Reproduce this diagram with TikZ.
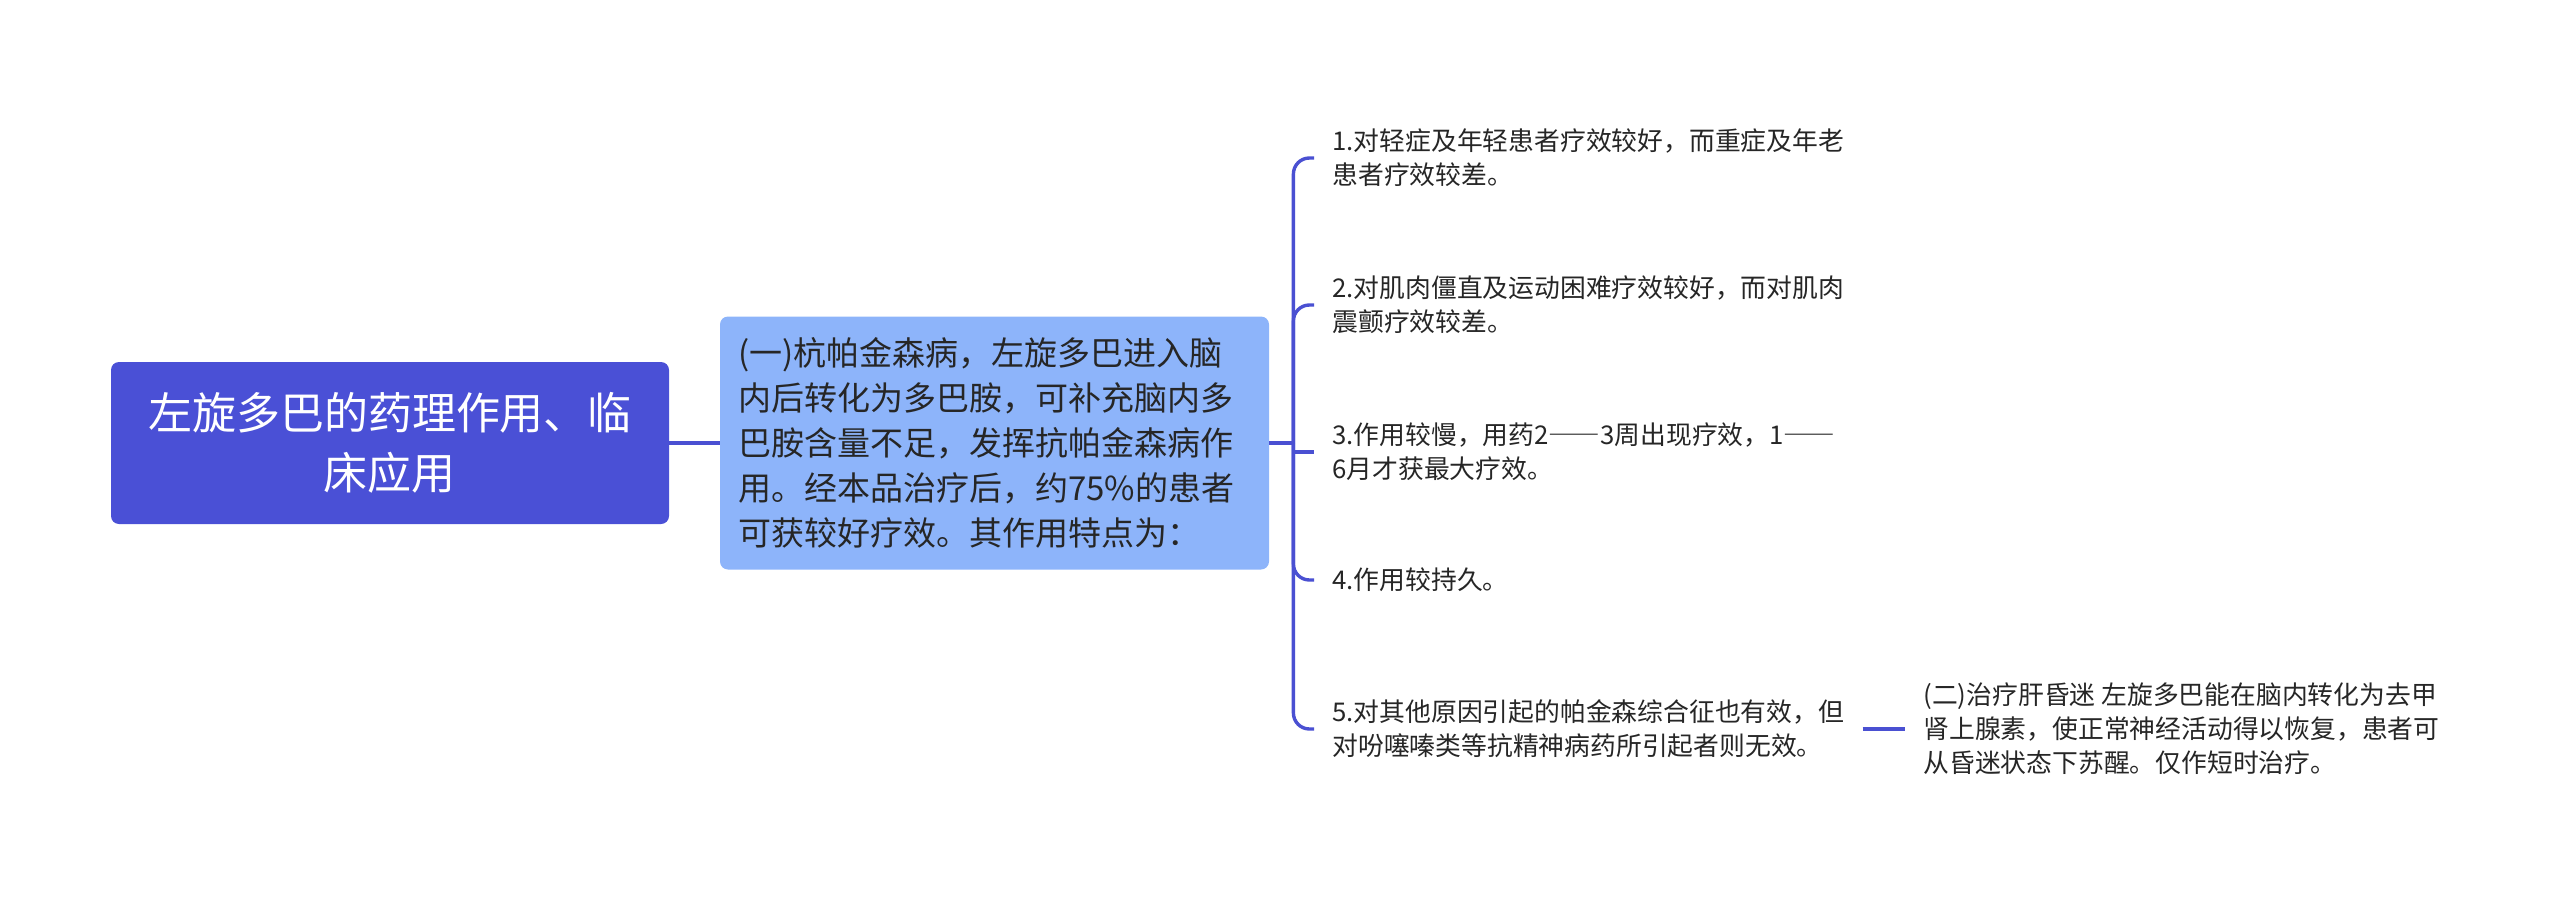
\documentclass[tikz,border=0pt]{standalone}
\usepackage{fontspec}
\setmainfont{Noto Sans CJK SC}
\newfontfamily\fullwidth[CharacterWidth=Full]{Noto Sans CJK SC}
\usetikzlibrary{positioning}
\definecolor{rootblue}{HTML}{4A50D6}
\definecolor{topicblue}{HTML}{8DB4FA}
\definecolor{linkblue}{HTML}{4A50D2}

\begin{document}
\begin{tikzpicture}[x=0.5pt,y=-0.5pt,
    rootbox/.style={fill=rootblue,rounded corners=4pt,text=white,align=center,
      minimum width=279pt,minimum height=81pt,inner sep=0pt,
      font=\fontsize{22}{30}\selectfont},
    topicbox/.style={fill=topicblue,rounded corners=4pt,text=black!85,align=left,
      text width=256.5pt,inner xsep=9pt,minimum height=126.5pt,
      font=\fontsize{16.5}{22.5}\selectfont},
    leaf/.style={anchor=west,align=left,text=black!85,inner xsep=9pt,inner ysep=2pt,
      font=\fontsize{12.9}{17}\selectfont},
    link/.style={draw=linkblue,line width=1.7pt}]
    \useasboundingbox (0,0) rectangle (2560,904);
    % central topic
    \node[rootbox] (root) at (390,443) {左旋多巴的药理作用、临\\床应用};
    \node[topicbox] (topic) at (994.5,443) {(一)杭帕金森病，左旋多巴进入脑\\内后转化为多巴胺，可补充脑内多\\巴胺含量不足，发挥抗帕金森病作\\用。经本品治疗后，约75\%的患者\\可获较好疗效。其作用特点为：};
    % features
    \node[leaf] (c1) at (1314,158) {1.对轻症及年轻患者疗效较好，而重症及年老\\患者疗效较差。};
    \node[leaf] (c2) at (1314,305) {2.对肌肉僵直及运动困难疗效较好，而对肌肉\\震颤疗效较差。};
    \node[leaf] (c3) at (1314,452) {3.作用较慢，用药2{\fullwidth ——}3周出现疗效，1{\fullwidth ——}\\6月才获最大疗效。};
    \node[leaf] (c4) at (1314,580) {4.作用较持久。};
    \node[leaf] (c5) at (1314,729) {5.对其他原因引起的帕金森综合征也有效，但\\对吩噻嗪类等抗精神病药所引起者则无效。};
    \node[leaf] (c6) at (1905,729) {(二)治疗肝昏迷 左旋多巴能在脑内转化为去甲\\肾上腺素，使正常神经活动得以恢复，患者可\\从昏迷状态下苏醒。仅作短时治疗。};
    % connectors
    \coordinate (fork) at ([xshift=12pt]topic.east);
    \draw[link] (root) -- (topic);
    \draw[link] (topic) -- (fork);
    \foreach \leafname in {c1,c2,c4,c5}
      \draw[link,rounded corners=8pt] (fork) |- (\leafname.west);
    \draw[link] (fork |- c3.west) -- (c3.west);
    \draw[link] (c5) -- (c6);
\end{tikzpicture}
\end{document}
